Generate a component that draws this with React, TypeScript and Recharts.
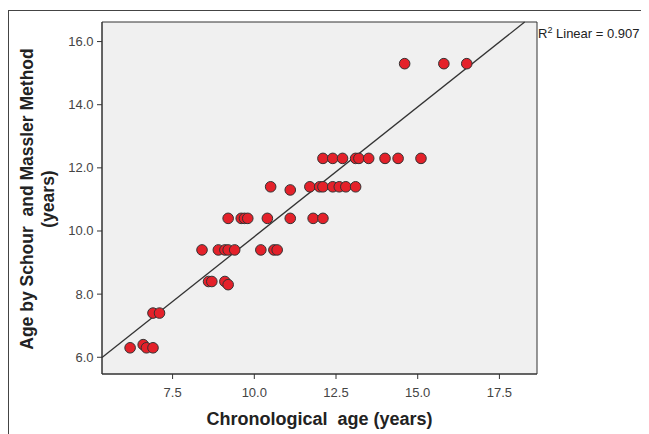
import React from 'react';
import {
  ScatterChart,
  Scatter,
  XAxis,
  YAxis,
  CartesianGrid,
  ReferenceLine,
  ReferenceArea,
} from 'recharts';

// chronological age (x) and Schour & Massler estimate (y)
const chronoAge = [
  6.2, 6.6, 6.7, 6.9, 6.9, 7.1,
  8.6, 8.7, 9.1, 9.2,
  8.4, 8.9, 9.1, 9.2, 9.4, 10.2, 10.6, 10.7,
  9.2, 9.6, 9.7, 9.8, 10.4, 11.1, 11.8, 12.1,
  10.5, 11.1, 11.7, 12.0, 12.1, 12.4, 12.6, 12.8, 13.1,
  12.1, 12.4, 12.7, 13.1, 13.2, 13.5, 14.0, 14.4, 15.1,
  14.6, 15.8, 16.5,
];
const schourAge = [
  6.3, 6.4, 6.3, 6.3, 7.4, 7.4,
  8.4, 8.4, 8.4, 8.3,
  9.4, 9.4, 9.4, 9.4, 9.4, 9.4, 9.4, 9.4,
  10.4, 10.4, 10.4, 10.4, 10.4, 10.4, 10.4, 10.4,
  11.4, 11.3, 11.4, 11.4, 11.4, 11.4, 11.4, 11.4, 11.4,
  12.3, 12.3, 12.3, 12.3, 12.3, 12.3, 12.3, 12.3, 12.3,
  15.3, 15.3, 15.3,
];
const xTicks = [7.5, 10, 12.5, 15, 17.5];
const yTicks = [6, 8, 10, 12, 14, 16];
const xDomain = [5.34, 18.65];
const yDomain = [5.47, 16.62];
const fitIntercept = 1.6;
const fitSlope = 0.822;
const rSquared = 0.907;

const data = chronoAge.map((x, i) => ({ x, y: schourAge[i] }));

// fit line runs from left edge of the plot until it meets the top
const fitStart = { x: xDomain[0], y: fitIntercept + fitSlope * xDomain[0] };
const fitEnd = { x: (yDomain[1] - fitIntercept) / fitSlope, y: yDomain[1] };

const FONT = '"Liberation Sans", Arial, sans-serif';

const XTick = ({ x, y, payload }: any) => (
  <text x={x} y={y} dy={11} textAnchor="middle" dominantBaseline="central"
    fontFamily={FONT} fontSize={13} fill="#444">
    {Number(payload.value).toFixed(1)}
  </text>
);

const YTick = ({ x, y, payload }: any) => (
  <text x={x} y={y} dx={-1.5} textAnchor="end" dominantBaseline="central"
    fontFamily={FONT} fontSize={13} fill="#444">
    {Number(payload.value).toFixed(1)}
  </text>
);

const Dot = ({ cx, cy }: any) => (
  <circle cx={cx} cy={cy} r={5.3} fill="#e4212a" stroke="#333" strokeWidth={1} />
);

const YTitle = ({ viewBox }: any) => {
  const cy = viewBox.y + viewBox.height / 2 + 1;
  return (
    <g fontFamily={FONT} fontSize={17.5} fontWeight="bold" fill="#222">
      <text x={18} y={cy} transform={`rotate(-90, 18, ${cy})`} textAnchor="middle"
        dominantBaseline="central" style={{ whiteSpace: 'pre' }}>
        {'Age by Schour  and Massler Method'}
      </text>
      <text x={38.5} y={cy} transform={`rotate(-90, 38.5, ${cy})`} textAnchor="middle"
        dominantBaseline="central">
        (years)
      </text>
    </g>
  );
};

const XTitle = ({ viewBox }: any) => {
  const cx = viewBox.x + viewBox.width / 2;
  return (
    <text x={cx} y={viewBox.y + 45} textAnchor="middle" dominantBaseline="central"
      fontFamily={FONT} fontSize={18} fontWeight="bold" fill="#222"
      style={{ whiteSpace: 'pre' }}>
      {'Chronological  age (years)'}
    </text>
  );
};

export default function App() {
  return (
    <div
      style={{
        position: 'relative',
        marginTop: 2,
        width: 640,
        height: 423,
        borderTop: '1px solid #444',
        borderLeft: '1px solid #444',
        background: '#fff',
      }}
    >
      <ScatterChart width={640} height={423} margin={{ top: 11, right: 112, bottom: 0, left: 0 }}>
        <CartesianGrid horizontal={false} vertical={false} fill="#f0f0f0" />
        <XAxis
          type="number"
          dataKey="x"
          domain={xDomain}
          ticks={xTicks}
          allowDataOverflow
          height={60}
          tickSize={5}
          axisLine={{ stroke: '#333' }}
          tickLine={{ stroke: '#333' }}
          tick={<XTick />}
          label={<XTitle />}
        />
        <YAxis
          type="number"
          dataKey="y"
          domain={yDomain}
          ticks={yTicks}
          allowDataOverflow
          width={93}
          tickSize={5}
          axisLine={{ stroke: '#333' }}
          tickLine={{ stroke: '#333' }}
          tick={<YTick />}
          label={<YTitle />}
        />
        <ReferenceArea
          x1={xDomain[0]}
          x2={xDomain[1]}
          y1={yDomain[0]}
          y2={yDomain[1]}
          fill="none"
          fillOpacity={0}
          stroke="#333"
          strokeOpacity={1}
          ifOverflow="visible"
        />
        <ReferenceLine
          segment={[fitStart, fitEnd]}
          stroke="#333"
          strokeWidth={1.3}
          ifOverflow="visible"
        />
        <Scatter data={data} shape={<Dot />} isAnimationActive={false} />
      </ScatterChart>
      <div
        style={{
          position: 'absolute',
          left: 529,
          top: 14,
          fontFamily: FONT,
          fontSize: 13,
          color: '#222',
          whiteSpace: 'nowrap',
        }}
      >
        R<sup style={{ fontSize: 9 }}>2</sup> Linear = {rSquared.toFixed(3)}
      </div>
    </div>
  );
}
